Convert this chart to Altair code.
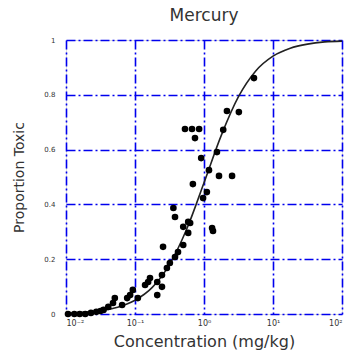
import altair as alt
import pandas as pd

# Observed points: concentration (mg/kg) and proportion toxic
conc = [5.3, 2.15, 3.2, 1.9, 0.53, 0.67, 0.85, 0.74, 1.54, 0.91, 1.18, 1.65, 2.55,
        0.69, 1.1, 0.97, 0.36, 0.38, 0.59, 0.50, 0.59, 1.35, 0.255, 0.50, 0.42,
        0.38, 0.32, 0.29, 0.246, 0.165, 0.155, 0.21, 0.246, 0.21, 0.14, 0.093,
        0.085, 0.11, 0.077, 0.051, 0.048, 0.065, 0.041, 0.035, 0.63, 1.31,
        0.0107, 0.0132, 0.0158, 0.019, 0.023, 0.0275, 0.0316]
prop = [0.861, 0.741, 0.737, 0.672, 0.675, 0.675, 0.675, 0.642, 0.591, 0.569, 0.525,
        0.504, 0.504, 0.474, 0.445, 0.423, 0.387, 0.354, 0.336, 0.318, 0.296, 0.303,
        0.245, 0.252, 0.226, 0.208, 0.186, 0.168, 0.142, 0.131, 0.117, 0.117, 0.099,
        0.069, 0.106, 0.088, 0.069, 0.058, 0.058, 0.058, 0.04, 0.033, 0.026, 0.015,
        0.332, 0.314, 0.0, 0.0, 0.0, 0.0, 0.004, 0.008, 0.011]

# Fitted curve
curve_x = [0.01, 0.0178, 0.0316, 0.0562, 0.1, 0.178, 0.316, 0.562, 1.0, 1.78,
           3.16, 5.62, 10.0, 17.8, 31.6, 56.2, 100.0]
curve_y = [0.003, 0.006, 0.0125, 0.025, 0.05, 0.097, 0.18, 0.31, 0.479, 0.652,
           0.793, 0.887, 0.941, 0.97, 0.985, 0.993, 0.996]

x_ticks = [0.01, 0.1, 1, 10, 100]
y_ticks = [0, 0.2, 0.4, 0.6, 0.8, 1]

pts = pd.DataFrame({"c": conc, "p": prop})
crv = pd.DataFrame({"c": curve_x, "p": curve_y})

BLUE = "#0000ee"
TXT = "#333333"
FONT = "DejaVu Sans"

xscale = alt.Scale(type="log", domain=[0.01, 100], nice=False)
yscale = alt.Scale(domain=[0, 1], nice=False)

label_expr = ("datum.value == 0.01 ? '10⁻²' : datum.value == 0.1 ? '10⁻¹' : "
              "datum.value == 1 ? '10⁰' : datum.value == 10 ? '10¹' : '10²'")

xaxis = alt.Axis(values=x_ticks, labelExpr=label_expr, title="Concentration (mg/kg)",
                 grid=True, gridColor=BLUE, gridDash=[9, 3, 2, 3], gridWidth=1.6,
                 gridOpacity=1, ticks=False, domain=False, labelPadding=5,
                 labelFontSize=8, labelColor=TXT,
                 titleFontSize=16, titleFontWeight="normal", titleColor=TXT,
                 titlePadding=6, labelFont=FONT, titleFont=FONT)
yaxis = alt.Axis(values=y_ticks, format="~g", title="Proportion Toxic", grid=True,
                 gridColor=BLUE, gridDash=[9, 3, 2, 3], gridWidth=1.6, gridOpacity=1,
                 ticks=False, domain=False, labelPadding=11, labelFontSize=7,
                 labelColor=TXT, titleFontSize=14,
                 titleFontWeight="normal", titleColor=TXT, titlePadding=17,
                 labelFont=FONT, titleFont=FONT)

line = alt.Chart(crv).mark_line(color="#222", strokeWidth=1.6, interpolate="monotone").encode(
    x=alt.X("c:Q", scale=xscale, axis=xaxis),
    y=alt.Y("p:Q", scale=yscale, axis=yaxis),
)
points = alt.Chart(pts).mark_circle(color="black", size=44, opacity=1).encode(
    x=alt.X("c:Q", scale=xscale),
    y=alt.Y("p:Q", scale=yscale),
)

chart = (line + points).properties(
    width=276, height=274,
    title=alt.TitleParams("Mercury", fontSize=17, fontWeight="normal", color=TXT,
                          font=FONT, offset=11),
    autosize=alt.AutoSizeParams(type="none"),
    padding={"left": 66, "top": 40, "right": 11, "bottom": 42},
).configure_view(stroke=BLUE, strokeWidth=2.2).configure(background="white")

chart.save("out.html", embed_options={"renderer": "svg", "actions": False})
